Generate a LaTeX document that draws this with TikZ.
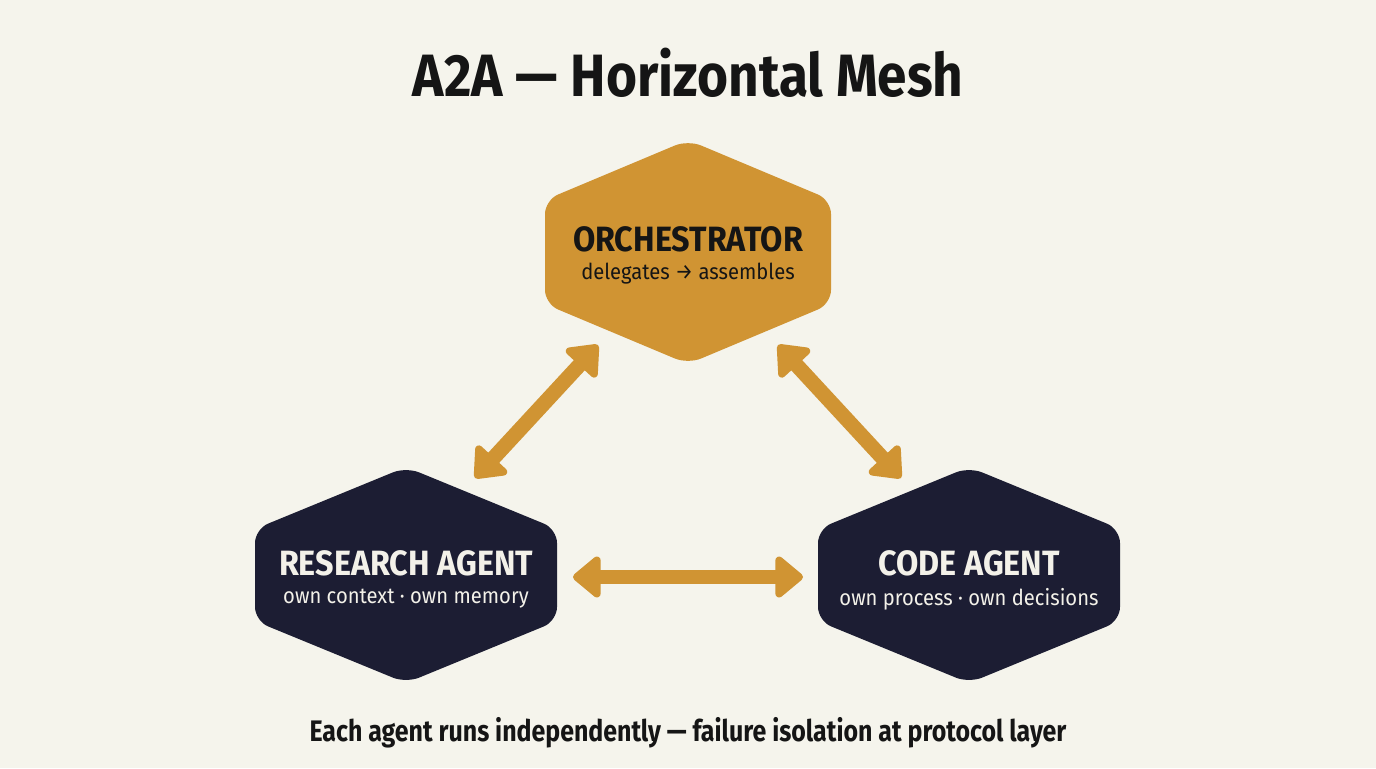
\documentclass[tikz,border=0pt]{standalone}
\usepackage{fontspec}
\setmainfont{Fira Sans}
\newfontfamily\headfont[FakeStretch=0.89]{Fira Sans}
\newfontfamily\footfont[FakeStretch=0.84]{Fira Sans}
\newfontfamily\subfont[FakeStretch=0.92]{Fira Sans}
\usetikzlibrary{arrows.meta,calc}

\definecolor{paper}{HTML}{F5F4EC}
\definecolor{amber}{HTML}{D09433}
\definecolor{navy}{HTML}{1C1D33}
\definecolor{ink}{HTML}{151515}
\definecolor{chalk}{HTML}{F3F1E9}

% hexagon: centre, half width, half height, side offset, fill
\newcommand{\hexshape}[5]{%
  \fill[#5, rounded corners=8pt] ($(#1)+(0,-#3)$) -- ($(#1)+(#2,-#4)$) -- ($(#1)+(#2,#4)$)
    -- ($(#1)+(0,#3)$) -- ($(#1)+(-#2,#4)$) -- ($(#1)+(-#2,-#4)$) -- cycle;}

\begin{document}
\begin{tikzpicture}[x=0.02cm,y=-0.02cm,
    title/.style={font=\headfont\bfseries\fontsize{34}{34}\selectfont, text=ink},
    hexname/.style={font=\subfont\bfseries\fontsize{20}{20}\selectfont},
    hexsub/.style={font=\subfont\fontsize{12.5}{12.5}\selectfont},
    footnote/.style={font=\footfont\bfseries\fontsize{16.9}{16.9}\selectfont, text=ink},
    link/.style={amber, line width=8.5pt, {Triangle[round,length=17pt,width=27pt]}-{Triangle[round,length=17pt,width=27pt]}}]

    \fill[paper] (0,0) rectangle (1376,768);
    \useasboundingbox (0,0) rectangle (1376,768);

    \node[title] (head) at (688,73) {A2A — Horizontal Mesh};

    % the three agents
    \coordinate (orch) at (688,252);
    \coordinate (res) at (406,575);
    \coordinate (code) at (969,575);
    \hexshape{orch}{143}{112}{52}{amber}
    \hexshape{res}{151}{108}{46}{navy}
    \hexshape{code}{151}{108}{46}{navy}

    \node[hexname, text=ink] (orchname) at (688,239) {ORCHESTRATOR};
    \node[hexsub, text=ink] (orchsub) at (688,274) {delegates → assembles};
    \node[hexname, text=chalk] (resname) at (406,563) {RESEARCH AGENT};
    \node[hexsub, text=chalk] (ressub) at (406,599) {own context · own memory};
    \node[hexname, text=chalk] (codename) at (969,563) {CODE AGENT};
    \node[hexsub, text=chalk] (codesub) at (969,599) {own process · own decisions};

    % links between agents
    \coordinate (orchL) at (598,345);
    \coordinate (resT) at (475,478);
    \coordinate (orchR) at (778,345);
    \coordinate (codeT) at (901,478);
    \coordinate (resR) at (573,577);
    \coordinate (codeL) at (803,577);
    \draw[link] (orchL) -- (resT);
    \draw[link] (orchR) -- (codeT);
    \draw[link] (resR) -- (codeL);

    \node[footnote] (foot) at (688,733) {Each agent runs independently — failure isolation at protocol layer};
\end{tikzpicture}
\end{document}
